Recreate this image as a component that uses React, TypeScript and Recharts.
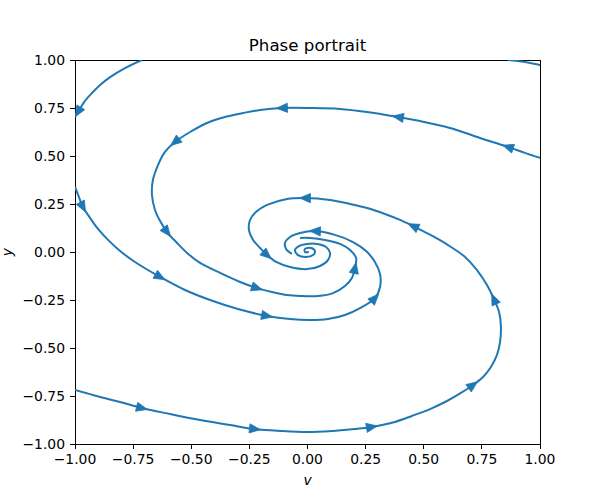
import React from 'react';
import { ComposedChart, Line, Scatter, XAxis, YAxis, ReferenceArea } from 'recharts';

// ---------- data ----------
const xTicks = [-1, -0.75, -0.5, -0.25, 0, 0.25, 0.5, 0.75, 1];
const yTicks = [-1, -0.75, -0.5, -0.25, 0, 0.25, 0.5, 0.75, 1];

// streamline: top-left arc
const curveA: [number, number][] = [
  [-0.712, 1.0], [-0.785, 0.958], [-0.849, 0.911], [-0.892, 0.870], [-0.927, 0.828],
  [-0.961, 0.781], [-0.987, 0.729], [-1.0, 0.703],
];
// top-right corner piece
const curveA2: [number, number][] = [[0.862, 1.0], [0.935, 0.990], [1.0, 0.974]];
// streamline entering from the right edge at y≈0.49
const curveB: [number, number][] = [
  [1.0, 0.490], [0.935, 0.516], [0.862, 0.547], [0.742, 0.594], [0.613, 0.646], [0.484, 0.682],
  [0.389, 0.703], [0.256, 0.729], [0.140, 0.745], [0.011, 0.750], [-0.110, 0.750], [-0.204, 0.740],
  [-0.277, 0.724], [-0.355, 0.703], [-0.432, 0.672], [-0.505, 0.625], [-0.570, 0.573], [-0.613, 0.521],
  [-0.643, 0.453], [-0.665, 0.375], [-0.669, 0.297], [-0.656, 0.219], [-0.634, 0.161], [-0.604, 0.104],
  [-0.561, 0.047], [-0.518, -0.005], [-0.462, -0.057], [-0.376, -0.109], [-0.290, -0.156], [-0.217, -0.188],
  [-0.153, -0.208], [-0.088, -0.224], [-0.032, -0.229], [0.045, -0.229], [0.110, -0.214], [0.161, -0.177],
  [0.191, -0.135], [0.204, -0.083], [0.209, -0.031], [0.183, 0.010], [0.140, 0.042], [0.075, 0.063],
  [0.011, 0.073], [-0.032, 0.073],
];
// outermost streamline entering from the left edge at y≈-0.72
const curveC: [number, number][] = [
  [-1.0, -0.719], [-0.892, -0.755], [-0.806, -0.781], [-0.712, -0.813], [-0.591, -0.844], [-0.462, -0.875],
  [-0.333, -0.901], [-0.226, -0.922], [-0.118, -0.932], [0.002, -0.938], [0.110, -0.932], [0.204, -0.922],
  [0.277, -0.911], [0.376, -0.885], [0.449, -0.854], [0.527, -0.818], [0.600, -0.776], [0.660, -0.734],
  [0.712, -0.693], [0.755, -0.651], [0.789, -0.599], [0.815, -0.536], [0.828, -0.469], [0.832, -0.391],
  [0.824, -0.313], [0.802, -0.245], [0.772, -0.172], [0.729, -0.094], [0.673, -0.021], [0.617, 0.026],
  [0.561, 0.068], [0.505, 0.104], [0.454, 0.135], [0.398, 0.167], [0.333, 0.198], [0.256, 0.229],
  [0.183, 0.250], [0.097, 0.271], [-0.011, 0.281], [-0.088, 0.276], [-0.174, 0.245], [-0.222, 0.208],
  [-0.247, 0.167], [-0.252, 0.115], [-0.234, 0.063], [-0.204, 0.021], [-0.174, -0.016], [-0.135, -0.052],
  [-0.075, -0.078], [-0.002, -0.089], [0.054, -0.073], [0.088, -0.042], [0.097, -0.005], [0.080, 0.026],
  [0.041, 0.042], [-0.002, 0.042], [-0.037, 0.031], [-0.054, 0.010], [-0.041, -0.016], [-0.006, -0.026],
  [0.024, -0.016], [0.032, 0.005], [0.015, 0.021], [-0.011, 0.016], [-0.011, 0.0], [0.006, 0.0],
];
// streamline entering from the left edge at y≈0.34
const curveD: [number, number][] = [
  [-1.0, 0.339], [-0.983, 0.286], [-0.966, 0.234], [-0.935, 0.177], [-0.901, 0.120], [-0.858, 0.063],
  [-0.806, 0.005], [-0.742, -0.052], [-0.634, -0.130], [-0.527, -0.198], [-0.419, -0.250], [-0.299, -0.297],
  [-0.174, -0.333], [-0.075, -0.349], [0.011, -0.354], [0.088, -0.349], [0.161, -0.328], [0.226, -0.292],
  [0.290, -0.240], [0.312, -0.182], [0.312, -0.115], [0.290, -0.052], [0.252, 0.005], [0.196, 0.052],
  [0.118, 0.089], [0.032, 0.109], [-0.032, 0.099], [-0.075, 0.078], [-0.097, 0.047], [-0.092, 0.016],
  [-0.067, -0.010],
];

// indices (into each streamline) where an arrow head sits
const arrowIdxA = [6];
const arrowIdxB = [2, 6, 10, 16, 23, 29, 37];
const arrowIdxC = [3, 7, 12, 18, 25, 32, 38, 46];
const arrowIdxD = [2, 8, 12, 18, 25];

// ---------- layout / style ----------
const BLUE = '#1f77b4';
const FONT = '"DejaVu Sans", sans-serif';
const CHART_W = 600;
const CHART_H = 500;
const MARGIN = { top: 60, right: 60, bottom: 0, left: 0 };
const Y_AXIS_W = 75;
const X_AXIS_H = 56;
const PLOT_W = CHART_W - MARGIN.left - MARGIN.right - Y_AXIS_W;
const PLOT_H = CHART_H - MARGIN.top - MARGIN.bottom - X_AXIS_H;
const KX = PLOT_W / 2;
const KY = PLOT_H / 2;

const toPts = (c: [number, number][]) => c.map(([x, y]) => ({ x, y }));

function buildArrows(c: [number, number][], idx: number[]) {
  return idx.map((i) => {
    const a = c[Math.max(0, i - 1)];
    const b = c[Math.min(c.length - 1, i + 1)];
    return { x: c[i][0], y: c[i][1], dx: b[0] - a[0], dy: b[1] - a[1] };
  });
}

const arrows = [
  ...buildArrows(curveA, arrowIdxA),
  ...buildArrows(curveB, arrowIdxB),
  ...buildArrows(curveC, arrowIdxC),
  ...buildArrows(curveD, arrowIdxD),
];

const curves = [curveA, curveA2, curveB, curveC, curveD].map(toPts);

const fmt = (v: number) => (v < 0 ? '\u2212' : '') + Math.abs(v).toFixed(2);

// centripetal Catmull-Rom curve factory (smooth curve through the read points)
const catmullRom = (context: any) => {
  let pts: [number, number][] = [];
  return {
    areaStart() {},
    areaEnd() {},
    lineStart() {
      pts = [];
    },
    point(x: number, y: number) {
      pts.push([+x, +y]);
    },
    lineEnd() {
      const n = pts.length;
      if (!n) return;
      context.moveTo(pts[0][0], pts[0][1]);
      for (let i = 0; i < n - 1; i++) {
        const p0 = pts[Math.max(0, i - 1)];
        const p1 = pts[i];
        const p2 = pts[i + 1];
        const p3 = pts[Math.min(n - 1, i + 2)];
        const d01 = Math.hypot(p1[0] - p0[0], p1[1] - p0[1]);
        const d12 = Math.hypot(p2[0] - p1[0], p2[1] - p1[1]);
        const d23 = Math.hypot(p3[0] - p2[0], p3[1] - p2[1]);
        const a01 = Math.sqrt(d01);
        const a12 = Math.sqrt(d12);
        const a23 = Math.sqrt(d23);
        let c1: number[] = p1;
        let c2: number[] = p2;
        if (a01 > 1e-6) {
          const a = 2 * d01 + 3 * a01 * a12 + d12;
          const nn = 3 * a01 * (a01 + a12);
          c1 = [(p1[0] * a - p0[0] * d12 + p2[0] * d01) / nn, (p1[1] * a - p0[1] * d12 + p2[1] * d01) / nn];
        }
        if (a23 > 1e-6) {
          const b = 2 * d23 + 3 * a23 * a12 + d12;
          const m = 3 * a23 * (a23 + a12);
          c2 = [(p2[0] * b + p1[0] * d23 - p3[0] * d12) / m, (p2[1] * b + p1[1] * d23 - p3[1] * d12) / m];
        }
        context.bezierCurveTo(c1[0], c1[1], c2[0], c2[1], p2[0], p2[1]);
      }
    },
  };
};

const ArrowHead = (props: any) => {
  const { cx, cy, payload } = props;
  if (cx == null || cy == null || !payload) return null;
  const ang = Math.atan2(-payload.dy * KY, payload.dx * KX);
  const c = Math.cos(ang);
  const s = Math.sin(ang);
  const L = 5.5;
  const W = 4.6;
  const tip = [cx + c * L, cy + s * L];
  const b1 = [cx - c * L - s * W, cy - s * L + c * W];
  const b2 = [cx - c * L + s * W, cy - s * L - c * W];
  return (
    <polygon
      points={`${tip[0]},${tip[1]} ${b1[0]},${b1[1]} ${b2[0]},${b2[1]}`}
      fill={BLUE}
      stroke={BLUE}
      strokeWidth={0.8}
    />
  );
};

const tickStyle = { fill: '#000', fontSize: 13.9, fontFamily: FONT };

const XLabel = (props: any) => {
  const vb = props.viewBox || { x: 75, y: 444, width: 465 };
  return (
    <text x={vb.x + vb.width / 2} y={vb.y + 41} textAnchor="middle" fontFamily={FONT}
      fontStyle="italic" fontSize={13.9} fill="#000">v</text>
  );
};

const YLabel = (props: any) => {
  const vb = props.viewBox || { x: 0, y: 60, height: 384 };
  const x = vb.x + 12;
  const y = vb.y + vb.height / 2;
  return (
    <text x={x} y={y} transform={`rotate(-90, ${x}, ${y})`} textAnchor="middle" fontFamily={FONT}
      fontStyle="italic" fontSize={13.9} fill="#000">y</text>
  );
};

const tickLineStyle = { stroke: '#000', strokeWidth: 1, shapeRendering: 'crispEdges' };

export default function App() {
  return (
    <div style={{ position: 'absolute', left: 0, top: 0, width: CHART_W, height: CHART_H, background: '#fff' }}>
      <div
        style={{
          position: 'absolute', left: 0, top: 36, width: 615, textAlign: 'center',
          fontFamily: FONT, fontSize: 16.67, lineHeight: '20px', color: '#000',
        }}
      >
        Phase portrait
      </div>
      <ComposedChart width={CHART_W} height={CHART_H} margin={MARGIN}>
        <XAxis
          type="number"
          dataKey="x"
          domain={[-1, 1]}
          allowDataOverflow
          ticks={xTicks}
          interval={0}
          tickFormatter={fmt}
          height={X_AXIS_H}
          tickSize={5}
          tickMargin={5}
          axisLine={false}
          tickLine={tickLineStyle as any}
          tick={tickStyle}
          label={XLabel}
        />
        <YAxis
          type="number"
          dataKey="y"
          domain={[-1, 1]}
          allowDataOverflow
          ticks={yTicks}
          interval={0}
          tickFormatter={fmt}
          width={Y_AXIS_W}
          tickSize={5}
          tickMargin={5}
          axisLine={false}
          tickLine={tickLineStyle as any}
          tick={tickStyle}
          label={YLabel}
        />
        {curves.map((c, i) => (
          <Line
            key={i}
            data={c}
            dataKey="y"
            type={catmullRom as any}
            stroke={BLUE}
            strokeWidth={2}
            dot={false}
            activeDot={false}
            isAnimationActive={false}
          />
        ))}
        <Scatter data={arrows} dataKey="y" shape={ArrowHead} isAnimationActive={false} />
        <ReferenceArea
          x1={-1}
          x2={1}
          y1={-1}
          y2={1}
          fill="none"
          stroke="#000"
          strokeWidth={1}
          strokeOpacity={1}
          shapeRendering="crispEdges"
          ifOverflow="visible"
        />
      </ComposedChart>
    </div>
  );
}
